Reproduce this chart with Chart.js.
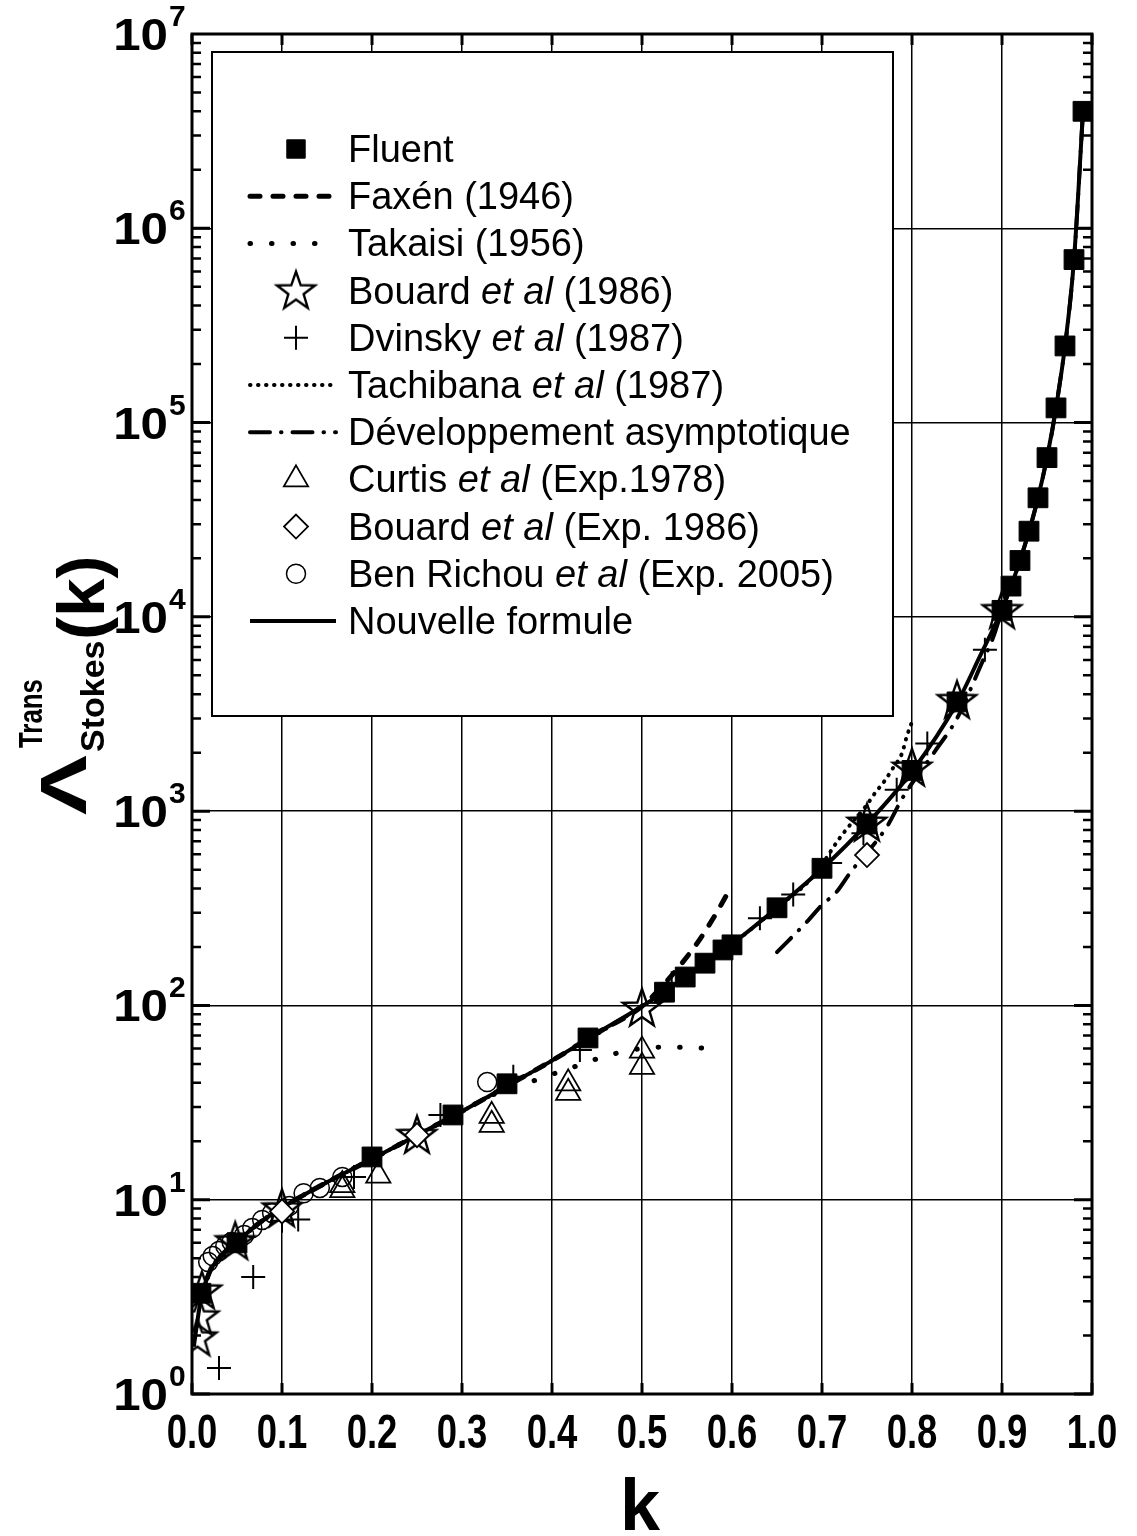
<!DOCTYPE html>
<html>
<head>
<meta charset="utf-8">
<script src="https://cdn.jsdelivr.net/npm/chart.js@4.4.1/dist/chart.umd.min.js"></script>
<style>
  html, body { margin: 0; padding: 0; background: #fff; }
  canvas { display: block; }
</style>
</head>
<body>
<canvas id="chart" width="1137" height="1536"></canvas>
<script>
// tick labels
const xTicks = [0, 0.1, 0.2, 0.3, 0.4, 0.5, 0.6, 0.7, 0.8, 0.9, 1.0];
const yTicks = [1, 10, 100, 1e3, 1e4, 1e5, 1e6, 1e7];

// Fluent (filled squares)
const fluentK = [0.01, 0.05, 0.2, 0.29, 0.35, 0.44, 0.525, 0.548, 0.57, 0.59, 0.6, 0.65, 0.7, 0.75, 0.8, 0.85, 0.9, 0.91, 0.92, 0.93, 0.94, 0.95, 0.96, 0.97, 0.98, 0.99];
const fluentV = [3.3, 6.0, 16.6, 27.3, 39.5, 68, 117, 140, 165, 193, 205, 318, 508, 860, 1620, 3650, 10800, 14400, 19500, 27600, 41000, 66000, 119000, 248000, 690000, 4000000];

// Faxén (1946), dashed
const faxenK = [0.01, 0.02, 0.03, 0.05, 0.075, 0.1, 0.15, 0.2, 0.25, 0.3, 0.35, 0.4, 0.45, 0.5, 0.52, 0.54, 0.56, 0.58, 0.6];
const faxenV = [3.1, 4.3, 5.0, 6.1, 7.6, 9.1, 12.3, 16.2, 21.5, 28.5, 38.5, 52, 72, 99, 122, 156, 205, 285, 415];

// Takaisi (1956), sparse dots
const takaisiK = [0.01, 0.02, 0.03, 0.05, 0.075, 0.1, 0.15, 0.2, 0.25, 0.3, 0.33, 0.37, 0.42, 0.47, 0.52, 0.545, 0.575];
const takaisiV = [3.1, 4.3, 5.0, 6.1, 7.6, 9.1, 12.3, 16.2, 21.5, 28.5, 34, 39.5, 47.5, 56.5, 61, 61, 60];

// Bouard et al (1986), open stars
const bouardK = [0.006, 0.008, 0.011, 0.048, 0.1, 0.25, 0.5, 0.75, 0.8, 0.85, 0.9];
const bouardV = [1.95, 2.5, 3.4, 6.1, 9.0, 21.5, 97, 870, 1670, 3720, 10800];

// Dvinsky et al (1987), plus signs
const dvinskyK = [0.03, 0.068, 0.1, 0.118, 0.18, 0.276, 0.357, 0.431, 0.533, 0.631, 0.668, 0.709, 0.746, 0.783, 0.817, 0.881];
const dvinskyV = [1.36, 4.0, 7.8, 7.9, 13.1, 27.3, 43, 59, 130, 281, 372, 541, 770, 1290, 2230, 6770];

// Tachibana et al (1987), dense dots
const tachiK = [0.01, 0.02, 0.05, 0.1, 0.2, 0.3, 0.4, 0.5, 0.6, 0.65, 0.69, 0.72, 0.733, 0.748, 0.759, 0.77, 0.779, 0.789, 0.794, 0.8];
const tachiV = [3.1, 4.3, 6.1, 9.1, 16.2, 28.5, 52, 99, 207, 318, 460, 730, 870, 1050, 1240, 1440, 1670, 1990, 2410, 2880];

// Développement asymptotique, dash-dot
const asymK = [0.65, 0.685, 0.7, 0.716, 0.731, 0.772, 0.79, 0.826, 0.85, 0.878, 0.89, 0.9, 0.92, 0.94, 0.96, 0.98, 0.99];
const asymV = [188, 275, 329, 383, 480, 830, 1180, 2050, 3000, 5850, 7800, 10800, 19500, 41000, 119000, 690000, 4000000];

// Curtis et al (Exp. 1978), open triangles
const curtisK = [0.167, 0.167, 0.207, 0.333, 0.333, 0.418, 0.418, 0.5, 0.5];
const curtisV = [11.9, 11.2, 13.3, 27, 24.3, 39.7, 35.5, 58.5, 48.3];

// Bouard et al (Exp. 1986), open diamonds
const bouardExpK = [0.1, 0.25, 0.75];
const bouardExpV = [8.7, 21.5, 594];

// Ben Richou et al (Exp. 2005), open circles
const richouK = [0.018, 0.023, 0.03, 0.037, 0.044, 0.058, 0.067, 0.078, 0.089, 0.108, 0.124, 0.142, 0.167, 0.328];
const richouV = [4.78, 5.13, 5.45, 5.78, 6.06, 6.58, 7.15, 7.87, 8.55, 9.29, 10.8, 11.5, 13.1, 40.3];

// Nouvelle formule, solid
const formuleK = [0.002, 0.005, 0.01, 0.02, 0.03, 0.04, 0.05, 0.075, 0.1, 0.15, 0.2, 0.25, 0.3, 0.35, 0.4, 0.45, 0.5, 0.55, 0.6, 0.65, 0.7, 0.75, 0.8, 0.85, 0.875, 0.9, 0.91, 0.92, 0.93, 0.94, 0.95, 0.96, 0.97, 0.98, 0.99];
const formuleV = [1.75, 2.2, 3.1, 4.3, 5.0, 5.6, 6.1, 7.6, 9.1, 12.3, 16.2, 21.5, 28.5, 38.5, 52, 72, 99, 142, 207, 318, 505, 860, 1600, 3600, 6200, 10900, 14400, 19500, 27600, 41000, 66000, 119000, 248000, 690000, 4000000];

const pts = (ks, vs) => ks.map((k, i) => ({ x: k, y: vs[i] }));

// open five-point star marker
function makeStar(r) {
  const c = document.createElement('canvas');
  c.width = c.height = Math.ceil(2 * r + 6);
  const g = c.getContext('2d');
  const cx = c.width / 2, cy = c.height / 2 + 1;
  g.beginPath();
  for (let i = 0; i < 10; i++) {
    const rr = i % 2 ? r * 0.4 : r;
    const a = -Math.PI / 2 + i * Math.PI / 5;
    g.lineTo(cx + rr * Math.cos(a), cy + rr * Math.sin(a));
  }
  g.closePath();
  g.lineWidth = 2.4;
  g.strokeStyle = '#000';
  g.stroke();
  return c;
}
const star = makeStar(20);

const marker = (label, ks, vs, style, r, fill, bw, order) => ({
  label, data: pts(ks, vs), showLine: false, order,
  pointStyle: style, pointRadius: r, pointBackgroundColor: fill,
  pointBorderColor: '#000', pointBorderWidth: bw
});
const curve = (label, ks, vs, width, dash, order) => ({
  label, data: pts(ks, vs), showLine: true, order,
  pointRadius: 0, borderColor: '#000', borderWidth: width,
  borderDash: dash, borderCapStyle: dash.length ? 'round' : 'butt',
  cubicInterpolationMode: 'monotone', fill: false
});

const datasets = [
  marker('Fluent', fluentK, fluentV, 'rect', 14, '#000', 1, 5),
  curve('Faxén (1946)', faxenK, faxenV, 5, [10, 13], 7),
  curve('Takaisi (1956)', takaisiK, takaisiV, 5, [0.5, 21], 8),
  marker('Bouard *et al* (1986)', bouardK, bouardV, star, 20, 'rgba(0,0,0,0)', 2, 1),
  marker('Dvinsky *et al* (1987)', dvinskyK, dvinskyV, 'cross', 12, 'rgba(0,0,0,0)', 2, 2),
  curve('Tachibana *et al* (1987)', tachiK, tachiV, 4, [0.5, 7.5], 9),
  curve('Développement asymptotique', asymK, asymV, 4, [20, 11, 0.5, 11], 10),
  marker('Curtis *et al* (Exp.1978)', curtisK, curtisV, 'triangle', 14, 'rgba(0,0,0,0)', 1.8, 4),
  marker('Bouard *et al* (Exp. 1986)', bouardExpK, bouardExpV, 'rectRot', 12, '#fff', 1.8, 0),
  marker('Ben Richou *et al* (Exp. 2005)', richouK, richouV, 'circle', 9.5, 'rgba(0,0,0,0)', 1.5, 3),
  curve('Nouvelle formule', formuleK, formuleV, 4, [], 6)
];

function fitText(ctx, s, x, y, font, sx, align) {
  ctx.save();
  ctx.font = font;
  ctx.translate(x, y);
  ctx.scale(sx, 1);
  ctx.textAlign = align || 'left';
  ctx.fillText(s, 0, 0);
  ctx.restore();
}

function drawMarker(ctx, ds, x, y) {
  const st = ds.pointStyle, r = ds.pointRadius;
  if (st instanceof HTMLCanvasElement) {
    ctx.drawImage(st, x - st.width / 2, y - st.height / 2);
    return;
  }
  ctx.save();
  ctx.fillStyle = ds.pointBackgroundColor;
  ctx.strokeStyle = '#000';
  ctx.lineWidth = ds.pointBorderWidth;
  ctx.beginPath();
  if (st === 'rect') {
    const s = r * Math.SQRT1_2;
    ctx.rect(x - s, y - s, 2 * s, 2 * s);
  } else if (st === 'circle') {
    ctx.arc(x, y, r, 0, 2 * Math.PI);
  } else if (st === 'triangle') {
    ctx.moveTo(x, y - r);
    ctx.lineTo(x + r * Math.sin(2 * Math.PI / 3), y + r / 2);
    ctx.lineTo(x - r * Math.sin(2 * Math.PI / 3), y + r / 2);
    ctx.closePath();
  } else if (st === 'rectRot') {
    ctx.moveTo(x, y - r); ctx.lineTo(x + r, y); ctx.lineTo(x, y + r); ctx.lineTo(x - r, y);
    ctx.closePath();
  } else if (st === 'cross') {
    ctx.moveTo(x, y - r); ctx.lineTo(x, y + r);
    ctx.moveTo(x - r, y); ctx.lineTo(x + r, y);
  }
  if (st !== 'cross') ctx.fill();
  ctx.stroke();
  ctx.restore();
}

// frame, ticks, labels, titles and legend
const decor = {
  id: 'decor',
  afterDraw(chart) {
    const { ctx, chartArea: a, scales: { x, y } } = chart;
    ctx.save();
    ctx.strokeStyle = '#000';
    ctx.fillStyle = '#000';

    // y ticks inside, both sides
    for (let e = 0; e < 7; e++) {
      for (let m = 1; m <= 9; m++) {
        const py = y.getPixelForValue(m * Math.pow(10, e));
        const len = m === 1 ? 18 : 9;
        ctx.lineWidth = m === 1 ? 3 : 2.5;
        ctx.beginPath();
        ctx.moveTo(a.left, py); ctx.lineTo(a.left + len, py);
        ctx.moveTo(a.right, py); ctx.lineTo(a.right - len, py);
        ctx.stroke();
      }
    }
    // x ticks inside, top and bottom
    ctx.lineWidth = 3;
    xTicks.forEach(v => {
      const px = x.getPixelForValue(v);
      ctx.beginPath();
      ctx.moveTo(px, a.top); ctx.lineTo(px, a.top + 11);
      ctx.moveTo(px, a.bottom); ctx.lineTo(px, a.bottom - 11);
      ctx.stroke();
    });
    ctx.lineWidth = 3;
    ctx.strokeRect(a.left, a.top, a.right - a.left, a.bottom - a.top);

    // tick labels
    ctx.textBaseline = 'alphabetic';
    xTicks.forEach(v => {
      fitText(ctx, v.toFixed(1), x.getPixelForValue(v), a.bottom + 54,
        'bold 48px "Liberation Sans", Arial, sans-serif', 0.76, 'center');
    });
    yTicks.forEach(v => {
      const py = y.getPixelForValue(v);
      const e = Math.round(Math.log10(v));
      fitText(ctx, '10', a.left - 24, py + 16, 'bold 44px "Liberation Sans", Arial, sans-serif', 1.12, 'right');
      fitText(ctx, String(e), a.left - 23, py - 8, 'bold 30px "Liberation Sans", Arial, sans-serif', 1, 'left');
    });

    // axis titles
    fitText(ctx, 'k', (a.left + a.right) / 2 - 2, 1530, 'bold 72px "Liberation Sans", Arial, sans-serif', 1, 'center');
    ctx.save();
    ctx.rotate(-Math.PI / 2);
    fitText(ctx, 'Λ', -815, 86, 'bold 64px "Liberation Sans", Arial, sans-serif', 1.4, 'left');
    fitText(ctx, 'Trans', -748, 42, 'bold 34px "Liberation Sans", Arial, sans-serif', 0.76, 'left');
    fitText(ctx, 'Stokes', -752, 104, 'bold 34px "Liberation Sans", Arial, sans-serif', 1, 'left');
    fitText(ctx, '(k)', -640, 104, 'bold 66px "Liberation Sans", Arial, sans-serif', 1.05, 'left');
    ctx.restore();

    // legend box
    const bx = a.left + 20, by = a.top + 18, bw = 681, bh = 664;
    ctx.fillStyle = '#fff';
    ctx.fillRect(bx, by, bw, bh);
    ctx.lineWidth = 2;
    ctx.strokeRect(bx, by, bw, bh);
    ctx.fillStyle = '#000';
    const rowH = 47.2, row0 = 149;
    chart.data.datasets.forEach((ds, i) => {
      const cy = row0 + i * rowH;
      if (ds.showLine) {
        ctx.save();
        ctx.lineWidth = ds.borderWidth;
        ctx.setLineDash(ds.borderDash);
        ctx.lineCap = ds.borderCapStyle;
        ctx.beginPath();
        ctx.moveTo(250, cy); ctx.lineTo(336, cy);
        ctx.stroke();
        ctx.restore();
      } else {
        drawMarker(ctx, Object.assign({}, ds, { pointRadius: ds.pointStyle === 'rect' ? 13 : ds.pointRadius }), 296, cy);
      }
      // label text, *...* in italic
      let tx = 348;
      ds.label.split('*').forEach((part, j) => {
        ctx.font = (j % 2 ? 'italic ' : '') + '38px "Liberation Sans", Arial, sans-serif';
        ctx.textAlign = 'left';
        ctx.fillText(part, tx, cy + 13);
        tx += ctx.measureText(part).width;
      });
    });
    ctx.restore();
  }
};

new Chart(document.getElementById('chart'), {
  type: 'scatter',
  data: { datasets },
  options: {
    responsive: false,
    animation: false,
    devicePixelRatio: 1,
    events: [],
    layout: { padding: { left: 192, right: 45, top: 34, bottom: 142 } },
    plugins: { legend: { display: false }, tooltip: { enabled: false } },
    scales: {
      x: {
        type: 'linear', min: 0, max: 1,
        ticks: { display: false, stepSize: 0.1 },
        grid: { color: '#000', lineWidth: 1.5, drawTicks: false },
        border: { display: false }
      },
      y: {
        type: 'logarithmic', min: 1, max: 1e7,
        afterBuildTicks: s => { s.ticks = yTicks.map(v => ({ value: v })); },
        ticks: { display: false },
        grid: { color: '#000', lineWidth: 1.5, drawTicks: false },
        border: { display: false }
      }
    }
  },
  plugins: [decor]
});
</script>
</body>
</html>
